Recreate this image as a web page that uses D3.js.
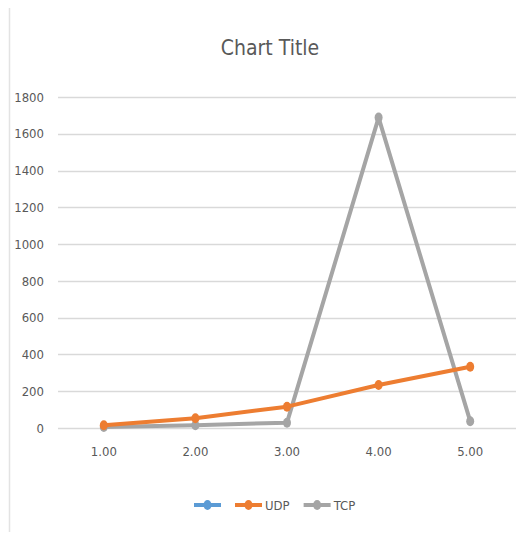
<!DOCTYPE html>
<html>
<head>
<meta charset="utf-8">
<script src="https://cdn.jsdelivr.net/npm/d3@7"></script>
<style>
  html, body { margin: 0; padding: 0; background: #fff; }
  svg text { font-family: "DejaVu Sans Condensed", "Liberation Sans Narrow", sans-serif; font-stretch: condensed; }
</style>
</head>
<body>
<svg id="chart" width="524" height="535"></svg>
<script>
// Data
const categories = ["1.00", "2.00", "3.00", "4.00", "5.00"];
const seriesNames = ["", "UDP", "TCP"];
const blankValues = [null, null, null, null, null];
const udpValues = [15, 53, 116, 234, 333];
const tcpValues = [5, 15, 29, 1688, 37];
const yTicks = [0, 200, 400, 600, 800, 1000, 1200, 1400, 1600, 1800];
const colors = ["#5B9BD5", "#ED7D31", "#A5A5A5"];

const series = [
  { name: seriesNames[0], values: blankValues, color: colors[0] },
  { name: seriesNames[1], values: udpValues, color: colors[1] },
  { name: seriesNames[2], values: tcpValues, color: colors[2] }
];

const svg = d3.select("#chart");
const plot = { left: 58, right: 516, top: 97, bottom: 428 };

// Chart frame edge
svg.append("line")
  .attr("x1", 9.5).attr("x2", 9.5).attr("y1", 8).attr("y2", 532)
  .attr("stroke", "#e3e3e3").attr("stroke-width", 1.5);

// Title
svg.append("text")
  .attr("x", 270).attr("y", 55)
  .attr("text-anchor", "middle")
  .attr("font-size", 21)
  .attr("fill", "#595959")
  .text("Chart Title");

const x = d3.scaleBand().domain(categories).range([plot.left, plot.right]).padding(0);
const y = d3.scaleLinear().domain([0, 1800]).range([plot.bottom, plot.top]);

// Gridlines
svg.append("g")
  .selectAll("line")
  .data(yTicks)
  .join("line")
  .attr("x1", plot.left).attr("x2", plot.right)
  .attr("y1", d => Math.round(y(d)) + 0.5).attr("y2", d => Math.round(y(d)) + 0.5)
  .attr("stroke", "#d9d9d9").attr("stroke-width", 1.5);

// Y axis labels
const yAxis = d3.axisLeft(y).tickValues(yTicks).tickFormat(d3.format("d")).tickSize(0).tickPadding(0);
const gy = svg.append("g").attr("transform", `translate(${plot.left - 14},0)`).call(yAxis);
gy.select(".domain").remove();
gy.selectAll("text").attr("font-size", 13).attr("fill", "#595959").attr("font-family", null);

// X axis labels
const xAxis = d3.axisBottom(x).tickSize(0).tickPadding(0);
const gx = svg.append("g").attr("transform", `translate(0,${plot.bottom + 19})`).call(xAxis);
gx.select(".domain").remove();
gx.selectAll("text").attr("font-size", 13).attr("fill", "#595959").attr("font-family", null);

const cx = c => x(c) + x.bandwidth() / 2;

const line = d3.line()
  .defined(d => d.v !== null)
  .x(d => cx(d.c))
  .y(d => y(d.v));

// Series lines and markers (TCP drawn first, UDP on top)
const drawOrder = [series[2], series[1], series[0]];
drawOrder.forEach(s => {
  const pts = categories.map((c, i) => ({ c, v: s.values[i] }));
  svg.append("path")
    .datum(pts)
    .attr("d", line)
    .attr("fill", "none")
    .attr("stroke", s.color)
    .attr("stroke-width", 4)
    .attr("stroke-linejoin", "round")
    .attr("stroke-linecap", "round");
  svg.append("g")
    .selectAll("ellipse")
    .data(pts.filter(d => d.v !== null))
    .join("ellipse")
    .attr("cx", d => cx(d.c))
    .attr("cy", d => y(d.v))
    .attr("rx", 4).attr("ry", 5)
    .attr("fill", s.color);
});

// Legend: entries laid out left to right from measured label widths
const ly = 505;
let lx = 194;
series.forEach(s => {
  const g = svg.append("g");
  g.append("line")
    .attr("x1", lx).attr("x2", lx + 27)
    .attr("y1", ly).attr("y2", ly)
    .attr("stroke", s.color).attr("stroke-width", 4);
  g.append("ellipse")
    .attr("cx", lx + 13.5).attr("cy", ly)
    .attr("rx", 4).attr("ry", 5)
    .attr("fill", s.color);
  let w = 0;
  if (s.name) {
    const t = g.append("text")
      .attr("x", lx + 30).attr("y", ly + 5)
      .attr("font-size", 13).attr("fill", "#595959")
      .text(s.name);
    w = t.node().getComputedTextLength() + 3;
  }
  lx += 27 + w + 14;
});
</script>
</body>
</html>
